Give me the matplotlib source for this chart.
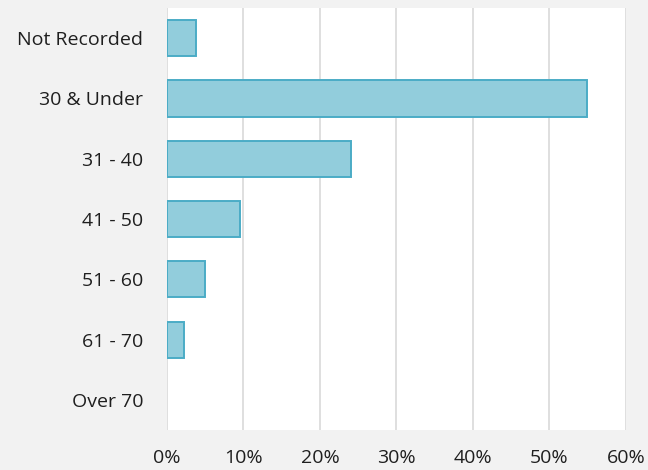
import matplotlib
matplotlib.use('Agg')
from matplotlib import pyplot as plt
import matplotlib.ticker as ticker

# age groups and their share (%)
categories = ['Not Recorded', '30 & Under', '31 - 40', '41 - 50', '51 - 60', '61 - 70', 'Over 70']
shares = [3.8, 54.9, 24.1, 9.5, 5.0, 2.2, 0.0]

plt.rcParams['font.family'] = ['Open Sans', 'DejaVu Sans']

fig = plt.figure(figsize=(6.48, 4.70), dpi=100, facecolor='#f2f2f2')
ax = fig.add_axes([0.2577, 0.085, 0.966 - 0.2577, 0.898])
ax.set_facecolor('white')

pos = list(range(len(categories)))
# no outline for empty bars
widths = [1.4 if v > 0 else 0 for v in shares]
ax.barh(pos, shares, height=0.6, color='#92cddc', edgecolor='#4bacc6', linewidth=widths, zorder=3)

ax.set_yticks(pos)
ax.set_yticklabels(categories)
ax.set_ylim(len(categories) - 0.5, -0.5)

ax.set_xlim(0, 60)
ax.xaxis.set_major_locator(ticker.MultipleLocator(10))
ax.xaxis.set_major_formatter(ticker.FuncFormatter(lambda v, p: '%d%%' % v))
ax.grid(axis='x', color='#d9d9d9', linewidth=1.2, zorder=0)
ax.set_axisbelow(True)

for s in ax.spines.values():
    s.set_visible(False)

ax.tick_params(axis='both', length=0, labelsize=14, colors='#1f1f1f')
ax.tick_params(axis='y', pad=17)
ax.tick_params(axis='x', pad=14)

fig.savefig('out.png', dpi=100, facecolor=fig.get_facecolor())
